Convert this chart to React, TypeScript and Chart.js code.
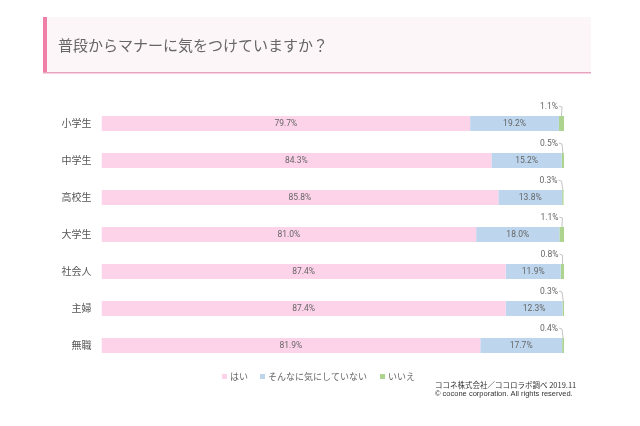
import React, { useEffect, useRef } from "react";
import { Chart, registerables } from "chart.js";

Chart.register(...registerables);

const TITLE = "普段からマナーに気をつけていますか？";
const categories = ["小学生", "中学生", "高校生", "大学生", "社会人", "主婦", "無職"];
const seriesNames = ["はい", "そんなに気にしていない", "いいえ"];
const yesValues = [79.7, 84.3, 85.8, 81.0, 87.4, 87.4, 81.9];
const notMuchValues = [19.2, 15.2, 13.8, 18.0, 11.9, 12.3, 17.7];
const noValues = [1.1, 0.5, 0.3, 1.1, 0.8, 0.3, 0.4];
const seriesColors = ["#fdd3ea", "#bdd6ee", "#acd48f"];
const sourceLines = ["ココネ株式会社／ココロラボ調べ 2019.11", "© cocone corporation. All rights reserved."];

const FONT = '"Noto Sans CJK JP", "Noto Sans", sans-serif';

const decorPlugin = {
  id: "decor",
  beforeDraw(chart: any) {
    const ctx = chart.ctx;
    ctx.save();
    ctx.fillStyle = "#fdf6f9";
    ctx.fillRect(43, 17, 548, 56);
    ctx.fillStyle = "#f07fa8";
    ctx.fillRect(43, 17, 4, 56);
    ctx.fillStyle = "#e9a3bf";
    ctx.fillRect(43, 72, 548, 1.5);
    ctx.fillStyle = "#666666";
    ctx.font = `15px ${FONT}`;
    ctx.textBaseline = "middle";
    ctx.textAlign = "left";
    ctx.fillText(TITLE, 58, 45);
    ctx.restore();
  },
  afterDatasetsDraw(chart: any) {
    const ctx = chart.ctx;
    ctx.save();
    ctx.font = `8.5px Roboto, ${FONT}`;
    ctx.textBaseline = "middle";
    ctx.textAlign = "center";
    ctx.fillStyle = "#666666";
    [0, 1].forEach((di) => {
      const meta = chart.getDatasetMeta(di);
      const data = chart.data.datasets[di].data as number[];
      meta.data.forEach((bar: any, i: number) => {
        const x0 = Math.min(bar.base, bar.x);
        const x1 = Math.max(bar.base, bar.x);
        ctx.fillText(data[i].toFixed(1) + "%", (x0 + x1) / 2, bar.y + 0.5);
      });
    });
    const meta2 = chart.getDatasetMeta(2);
    const d2 = chart.data.datasets[2].data as number[];
    meta2.data.forEach((bar: any, i: number) => {
      const xEnd = Math.max(bar.base, bar.x);
      const xMid = (bar.base + bar.x) / 2;
      const top = bar.y - bar.height / 2;
      const ty = top - 9;
      ctx.textAlign = "right";
      ctx.fillStyle = "#666666";
      ctx.fillText(d2[i].toFixed(1) + "%", xEnd - 6, ty);
      ctx.strokeStyle = "#aaaaaa";
      ctx.lineWidth = 0.7;
      ctx.beginPath();
      ctx.moveTo(xEnd - 5, ty - 1);
      ctx.lineTo(xEnd - 2, ty);
      ctx.lineTo(xMid, top);
      ctx.stroke();
    });
    ctx.font = `9px ${FONT}`;
    ctx.textAlign = "left";
    const legendX = [222, 260, 380];
    seriesNames.forEach((name, i) => {
      ctx.fillStyle = seriesColors[i];
      ctx.fillRect(legendX[i], 374, 5, 5);
      ctx.fillStyle = "#666666";
      ctx.fillText(name, legendX[i] + 8, 377);
    });
    ctx.fillStyle = "#333333";
    ctx.font = `7.5px ${FONT}`;
    ctx.fillText(sourceLines[0], 435, 385);
    ctx.font = `7.5px "Liberation Sans", Arial, sans-serif`;
    ctx.fillText(sourceLines[1], 435, 394);
    ctx.restore();
  },
};

export default function App() {
  const ref = useRef<HTMLCanvasElement | null>(null);
  useEffect(() => {
    if (!ref.current) return;
    const chart = new Chart(ref.current, {
      type: "bar",
      data: {
        labels: categories,
        datasets: [yesValues, notMuchValues, noValues].map((vals, i) => ({
          label: seriesNames[i],
          data: vals,
          backgroundColor: seriesColors[i],
          borderWidth: 0,
          barPercentage: 0.4,
          categoryPercentage: 1,
        })),
      },
      options: {
        indexAxis: "y",
        animation: false,
        responsive: false,
        maintainAspectRatio: false,
        layout: { padding: { left: 0, right: 76, top: 105, bottom: 62 } },
        plugins: { legend: { display: false }, tooltip: { enabled: false }, title: { display: false } },
        scales: {
          x: { stacked: true, min: 0, max: 100, display: false },
          y: {
            stacked: true,
            grid: { display: false, drawTicks: false },
            border: { display: false },
            ticks: { color: "#555555", font: { size: 10, family: FONT }, padding: 10 },
            afterFit(scale: any) {
              scale.width = 101.5;
            },
          },
        },
      },
      plugins: [decorPlugin],
    } as any);
    return () => chart.destroy();
  }, []);
  return (
    <div style={{ position: "absolute", left: 0, top: 0, width: 640, height: 426, background: "#fff" }}>
      <canvas ref={ref} width={640} height={426} style={{ width: 640, height: 426 }} />
    </div>
  );
}
